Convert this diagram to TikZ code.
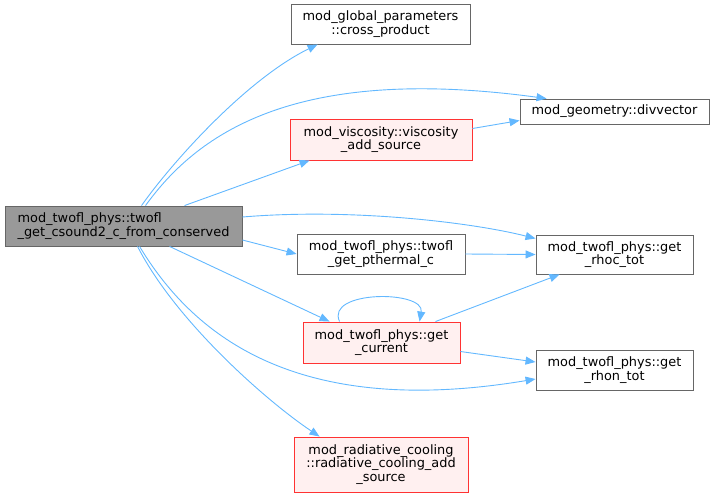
\documentclass[tikz,border=0pt]{standalone}
\usepackage{fontspec}
\setmainfont{DejaVu Sans}
\usetikzlibrary{arrows.meta,calc}
\definecolor{edgeblue}{HTML}{63B8FF}
\definecolor{boxgray}{HTML}{666666}
\definecolor{mainfill}{HTML}{999999}
\definecolor{redfill}{HTML}{FFF0F0}
\definecolor{redline}{HTML}{FF3333}
\begin{document}
\begin{tikzpicture}[x=1pt,y=-1pt,
  font=\fontsize{12.9}{13.5}\selectfont,
  box/.style={draw=boxgray, fill=white, line width=0.9pt, inner sep=0pt, align=center},
  redbox/.style={box, draw=redline, fill=redfill},
  mainbox/.style={box, fill=mainfill, align=left},
  ed/.style={draw=edgeblue, line width=0.9pt, -{Triangle[length=10pt,width=8pt]}}]
\useasboundingbox (0,0) rectangle (715,498);

\node[mainbox, minimum width=237, minimum height=40] (main) at (123.5,226) {mod\_twofl\_phys::twofl\\\_get\_csound2\_c\_from\_conserved};
\node[box, minimum width=179, minimum height=40] (cross) at (380.5,24) {mod\_global\_parameters\\::cross\_product};
\node[box, minimum width=189, minimum height=25] (div) at (614.5,111.5) {mod\_geometry::divvector};
\node[redbox, minimum width=182, minimum height=41] (visc) at (381,139.5) {mod\_viscosity::viscosity\\\_add\_source};
\node[box, minimum width=168, minimum height=40] (pth) at (381,254) {mod\_twofl\_phys::twofl\\\_get\_pthermal\_c};
\node[box, minimum width=157, minimum height=39] (rhoc) at (614.5,254.5) {mod\_twofl\_phys::get\\\_rhoc\_tot};
\node[redbox, minimum width=157, minimum height=41] (cur) at (381.5,342.5) {mod\_twofl\_phys::get\\\_current};
\node[box, minimum width=157, minimum height=40] (rhon) at (614.5,370) {mod\_twofl\_phys::get\\\_rhon\_tot};
\node[redbox, minimum width=174, minimum height=55] (rad) at (381,464.5) {mod\_radiative\_cooling\\::radiative\_cooling\_add\\\_source};

% main -> cross
\draw[ed] ($(main.north west)+(137,0)$) .. controls (170,165) and (245,80) .. ($(cross.south west)+(27,0)$);
% main -> div
\draw[ed] ($(main.north west)+(141,0)$) .. controls (200,130) and (300,65) .. ($(div.north west)+(27,0)$);
% visc -> div
\draw[ed] ($(visc.east)+(0,-11)$) -- ($(div.west)+(0,9)$);
% main -> visc
\draw[ed] ($(main.north west)+(180,0)$) -- ($(visc.south west)+(20,0)$);
% main -> rhoc
\draw[ed] ($(main.east)+(0,-9)$) .. controls (350,208) and (470,222) .. ($(rhoc.west)+(0,-16)$);
% main -> pth
\draw[ed] ($(main.east)+(0,14)$) -- (pth.west);
% pth -> rhoc
\draw[ed] (pth.east) -- (rhoc.west);
% main -> cur
\draw[ed] ($(main.south west)+(165,0)$) -- ($(cur.north west)+(27,0)$);
% cur loop
\draw[ed] ($(cur.north west)+(37,0)$) .. controls (325,290) and (425,290) .. ($(cur.north west)+(117,0)$);
% cur -> rhoc
\draw[ed] ($(cur.north east)+(-25,0)$) -- ($(rhoc.south west)+(24,0)$);
% cur -> rhon
\draw[ed] ($(cur.east)+(0,9)$) -- ($(rhon.west)+(0,-8)$);
% main -> rhon
\draw[ed] ($(main.south west)+(135,0)$) .. controls (190,330) and (290,420) .. ($(rhon.west)+(0,9)$);
% main -> rad
\draw[ed] ($(main.south west)+(133,0)$) .. controls (175,320) and (265,400) .. ($(rad.north west)+(26,0)$);
\end{tikzpicture}
\end{document}
